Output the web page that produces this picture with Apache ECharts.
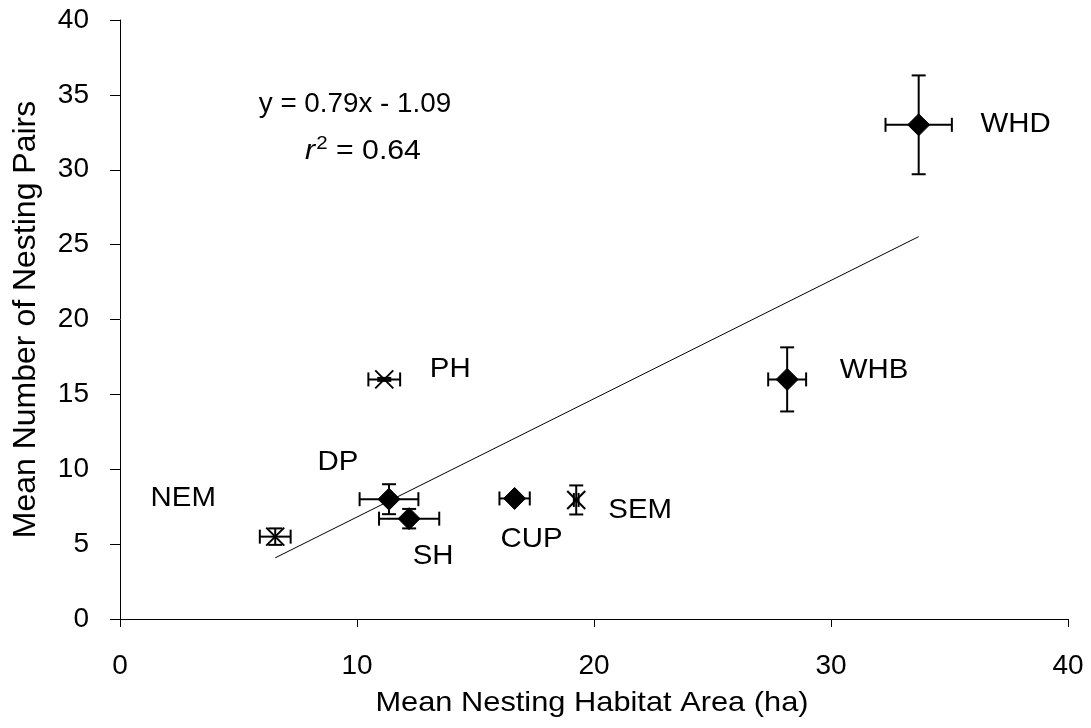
<!DOCTYPE html>
<html>
<head>
<meta charset="utf-8">
<style>
  html, body { margin: 0; padding: 0; background: #fff; }
  #chart { width: 1091px; height: 728px; }
</style>
<script src="https://cdn.jsdelivr.net/npm/echarts@6/dist/echarts.min.js"></script>
</head>
<body>
<div id="chart"></div>
<script>
// Site codes
const sites   = ['WHD', 'WHB', 'PH', 'DP', 'SH', 'NEM', 'CUP', 'SEM'];
// Mean nesting habitat area (ha) and its error
const areaHa  = [33.7, 28.15, 11.15, 11.35, 12.2, 6.55, 16.65, 19.25];
const areaErr = [1.4, 0.8, 0.67, 1.24, 1.27, 0.65, 0.64, 0.1];
// Mean number of nesting pairs and its error
const pairs    = [33.0, 16.0, 16.0, 8.0, 6.7, 5.5, 8.05, 7.95];
const pairsErr = [3.3, 2.14, 0.1, 1.0, 0.65, 0.55, 0.0, 0.97];
// Marker shape per site
const markers = ['diamond', 'diamond', 'cross', 'diamond', 'diamond', 'cross', 'diamond', 'cross'];
// Regression reported on the chart
const slope = 0.79;
const intercept = -1.09;
const rSquared = 0.64;

// Label placement around each point (pixels)
const labelOffset = {
  WHD: [97, -1], WHB: [87, -9], PH: [66, -10], DP: [-51, -37],
  SH: [24, 38], NEM: [-92, -38], CUP: [17, 41], SEM: [64, 10]
};

const FONT = '"Liberation Sans", Arial, sans-serif';
const GRID = { left: 120, right: 23, top: 20, bottom: 109 };
const points = sites.map((s, i) => [areaHa[i], pairs[i], areaErr[i], pairsErr[i], i]);

const xMin = Math.min(...areaHa), xMax = Math.max(...areaHa);
const trend = [[xMin, slope * xMin + intercept], [xMax, slope * xMax + intercept]];

function renderPoint(params, api) {
  const x = api.value(0), y = api.value(1), ex = api.value(2), ey = api.value(3);
  const idx = api.value(4);
  const c = api.coord([x, y]);
  const st = { stroke: '#000', lineWidth: 2, fill: null };
  const cap = 7;
  const kids = [];
  const seg = (x1, y1, x2, y2) => kids.push({ type: 'line', shape: { x1, y1, x2, y2 }, style: st });
  if (ex > 0) {
    const l = api.coord([x - ex, y]), r = api.coord([x + ex, y]);
    seg(l[0], l[1], r[0], r[1]);
    seg(l[0], l[1] - cap, l[0], l[1] + cap);
    seg(r[0], r[1] - cap, r[0], r[1] + cap);
  }
  if (ey > 0) {
    const t = api.coord([x, y + ey]), b = api.coord([x, y - ey]);
    seg(t[0], t[1], b[0], b[1]);
    seg(t[0] - cap, t[1], t[0] + cap, t[1]);
    seg(b[0] - cap, b[1], b[0] + cap, b[1]);
  }
  if (markers[idx] === 'diamond') {
    const h = 11;
    kids.push({
      type: 'polygon',
      shape: { points: [[c[0], c[1] - h], [c[0] + h, c[1]], [c[0], c[1] + h], [c[0] - h, c[1]]] },
      style: { fill: '#000', stroke: '#000', lineWidth: 1 }
    });
  } else {
    const h = 9;
    seg(c[0] - h, c[1] - h, c[0] + h, c[1] + h);
    seg(c[0] - h, c[1] + h, c[0] + h, c[1] - h);
  }
  const off = labelOffset[sites[idx]];
  kids.push({
    type: 'text',
    x: c[0] + off[0], y: c[1] + off[1], scaleX: 1.05,
    style: {
      x: 0, y: 0, text: sites[idx],
      fill: '#000', font: '28px ' + FONT, align: 'center', verticalAlign: 'middle'
    }
  });
  return { type: 'group', children: kids };
}

const chart = echarts.init(document.getElementById('chart'), null, { renderer: 'canvas' });
chart.setOption({
  animation: false,
  backgroundColor: '#fff',
  grid: Object.assign({ containLabel: false }, GRID),
  xAxis: {
    type: 'value', min: 0, max: 40, interval: 10,
    axisLine: { show: true, lineStyle: { color: '#000', width: 1 } },
    axisTick: { show: true, inside: false, length: 8, lineStyle: { color: '#000' } },
    axisLabel: { color: '#000', fontSize: 28, fontFamily: FONT, margin: 33 },
    splitLine: { show: false }
  },
  yAxis: {
    type: 'value', min: 0, max: 40, interval: 5,
    name: 'Mean Number of Nesting Pairs', nameLocation: 'middle', nameGap: 78, nameRotate: 90,
    nameTextStyle: { color: '#000', fontSize: 32, fontFamily: FONT },
    axisLine: { show: true, lineStyle: { color: '#000', width: 1 } },
    axisTick: { show: true, inside: false, length: 10, lineStyle: { color: '#000' } },
    axisLabel: { color: '#000', fontSize: 28, fontFamily: FONT, margin: 31 },
    splitLine: { show: false }
  },
  graphic: [
    {
      // x-axis title, centred under the plot area
      type: 'text', x: 592, y: 703, scaleX: 1.1,
      style: { text: 'Mean Nesting Habitat Area (ha)', x: 0, y: 0, fill: '#000',
               font: '28px ' + FONT, align: 'center', verticalAlign: 'middle' }
    },
    {
      type: 'text', x: 355, y: 105, scaleX: 1.03,
      style: { text: 'y = ' + slope.toFixed(2) + 'x - ' + Math.abs(intercept).toFixed(2),
               x: 0, y: 0, fill: '#000', font: '27px ' + FONT,
               align: 'center', verticalAlign: 'middle' }
    },
    {
      type: 'text', x: 363, y: 151, scaleX: 1.08,
      style: {
        text: '{i|r}{s|2}{n| = ' + rSquared.toFixed(2) + '}',
        x: 0, y: 0, fill: '#000', font: '28px ' + FONT, align: 'center', verticalAlign: 'middle',
        rich: {
          i: { fontStyle: 'italic', fontSize: 28, fontFamily: FONT, fill: '#000' },
          s: { fontSize: 19, fontFamily: FONT, fill: '#000', verticalAlign: 'top', padding: [0, 0, 15, 1] },
          n: { fontSize: 28, fontFamily: FONT, fill: '#000' }
        }
      }
    }
  ],
  series: [
    {
      type: 'line', data: trend, symbol: 'none', silent: true,
      lineStyle: { color: '#000', width: 1 }, z: 1
    },
    {
      type: 'custom', data: points, renderItem: renderPoint, z: 3,
      encode: { x: 0, y: 1 }
    }
  ]
});
</script>
</body>
</html>
